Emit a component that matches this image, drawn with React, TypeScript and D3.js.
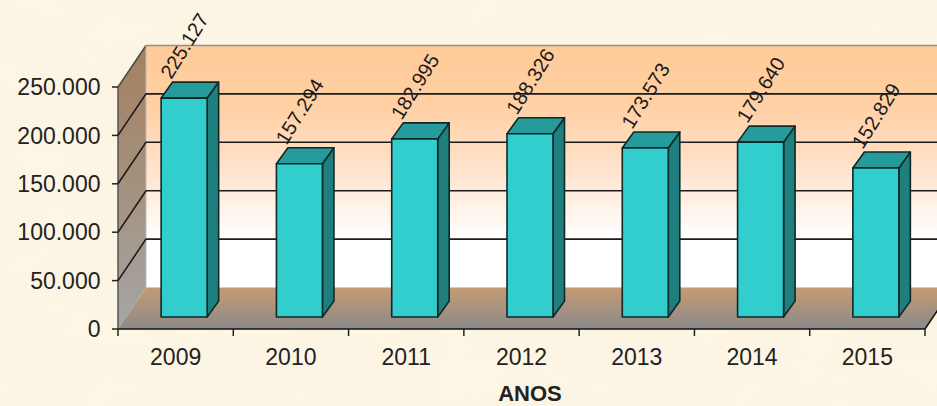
import React from "react";
import * as d3 from "d3";

const years = ["2009", "2010", "2011", "2012", "2013", "2014", "2015"];
const values = [225127, 157294, 182995, 188326, 173573, 179640, 152829];
const labels = ["225.127", "157.294", "182.995", "188.326", "173.573", "179.640", "152.829"];
const ticks = [0, 50000, 100000, 150000, 200000, 250000];
const tickLabels = ["0", "50.000", "100.000", "150.000", "200.000", "250.000"];

const W = 937, H = 406;
const x0 = 118, x1 = 925;
const depth = { dx: 28, dy: -41.5 };
const barDepth = { dx: 11.5, dy: -16 };
const barOff = { dx: 8.5, dy: -12 };
const barW = 46;

const y = d3.scaleLinear().domain([0, 250000]).range([329, 87]);
const x = d3.scaleBand<string>().domain(years).range([x0, x1]);

const poly = (pts: number[][]) => pts.map((p) => p.join(",")).join(" ");
const FONT = "'Liberation Sans', Arial, sans-serif";
const stroke = "#1c1c1c";

export default function App() {
  const top = y(250000), bottom = y(0);
  return (
    <svg width={W} height={H} viewBox={`0 0 ${W} ${H}`}
      style={{ position: "fixed", left: 0, top: 0, display: "block" }}>
      <defs>
        <linearGradient id="wall" x1="0" y1="0" x2="0" y2="1">
          <stop offset="0" stopColor="#FFCB98" />
          <stop offset="0.25" stopColor="#FFD0A4" />
          <stop offset="0.5" stopColor="#FFE2CB" />
          <stop offset="0.8" stopColor="#FFFFFF" />
          <stop offset="1" stopColor="#FFFFFF" />
        </linearGradient>
        <linearGradient id="side" x1="0" y1="0" x2="0" y2="1">
          <stop offset="0" stopColor="#A5805F" />
          <stop offset="0.5" stopColor="#A4917F" />
          <stop offset="1" stopColor="#A6A6A6" />
        </linearGradient>
        <linearGradient id="floor" x1="0" y1="0" x2="0" y2="1">
          <stop offset="0" stopColor="#C49B74" />
          <stop offset="1" stopColor="#8A8A8A" />
        </linearGradient>
        <filter id="paper" x="0" y="0" width="100%" height="100%">
          <feTurbulence type="fractalNoise" baseFrequency="0.014 0.02" numOctaves="3" seed="7" />
          <feColorMatrix type="matrix" values="0 0 0 0 0.99  0 0 0 0 0.92  0 0 0 0 0.78  0 0 0 1.8 -0.55" />
        </filter>
      </defs>

      <rect width={W} height={H} fill="#FDF5E4" />
      <rect width={W} height={H} filter="url(#paper)" />

      {/* back wall, side wall, floor */}
      <rect x={x0 + depth.dx} y={top + depth.dy} width={W} height={bottom - top} fill="url(#wall)" />
      <line x1={x0 + depth.dx} x2={W} y1={top + depth.dy} y2={top + depth.dy} stroke="#8f8f8f" strokeWidth={1.5} />
      <polygon
        points={poly([[x0, top], [x0 + depth.dx, top + depth.dy], [x0 + depth.dx, bottom + depth.dy], [x0, bottom]])}
        fill="url(#side)" />
      <polygon
        points={poly([[x0, bottom], [x0 + depth.dx, bottom + depth.dy], [x1 + depth.dx, bottom + depth.dy], [x1, bottom]])}
        fill="url(#floor)" />
      <line x1={x0} y1={top} x2={x0 + depth.dx} y2={top + depth.dy} stroke="#4a4a4a" strokeWidth={1.5} />
      <line x1={x0} y1={top} x2={x0} y2={bottom} stroke="#555" strokeWidth={1.5} />
      <line x1={x0 + depth.dx} y1={top + depth.dy} x2={x0 + depth.dx} y2={bottom + depth.dy} stroke="#bdbdbd" strokeWidth={1} />

      {/* gridlines */}
      {ticks.slice(1, 5).map((t) => (
        <polyline key={t} stroke={stroke} strokeWidth={1.6} fill="none"
          points={poly([[x0, y(t)], [x0 + depth.dx, y(t) + depth.dy], [W, y(t) + depth.dy]])} />
      ))}

      {/* axes */}
      <line x1={x0} x2={x1} y1={bottom} y2={bottom} stroke="#111" strokeWidth={1.5} />
      <line x1={x1} y1={bottom} x2={x1 + depth.dx} y2={bottom + depth.dy} stroke="#111" strokeWidth={1.5} />
      {ticks.map((t, i) => (
        <g key={t}>
          <line x1={x0 - 6} x2={x0} y1={y(t)} y2={y(t)} stroke="#222" strokeWidth={1.5} />
          <text x={x0 - 17.5} y={y(t)} dy="0.36em" textAnchor="end" fontFamily={FONT} fontSize={23} fill="#222">
            {tickLabels[i]}
          </text>
        </g>
      ))}
      {[...years, ""].map((yr, i) => {
        const tx = x0 + i * x.step();
        return <line key={i} x1={tx} x2={tx} y1={bottom} y2={bottom + 7} stroke="#222" strokeWidth={1.5} />;
      })}
      {years.map((yr) => (
        <text key={yr} x={(x(yr) as number) + x.bandwidth() / 2} y={365} textAnchor="middle"
          fontFamily={FONT} fontSize={23} fill="#222">{yr}</text>
      ))}
      <text x={530} y={401} textAnchor="middle" fontFamily={FONT} fontSize={22} fontWeight="bold" fill="#222">ANOS</text>

      {/* bars */}
      {years.map((yr, i) => {
        const cx = (x(yr) as number) + x.bandwidth() / 2 + barOff.dx;
        const l = cx - barW / 2, r = cx + barW / 2;
        const b = y(0) + barOff.dy;
        const h = y(0) - y(values[i]) + 1;
        const t = b - h;
        const { dx, dy } = barDepth;
        return (
          <g key={yr} stroke="#102828" strokeWidth={1.6} strokeLinejoin="round">
            <polygon points={poly([[r, t], [r + dx, t + dy], [r + dx, b + dy], [r, b]])} fill="#1F7F7F" />
            <polygon points={poly([[l, t], [l + dx, t + dy], [r + dx, t + dy], [r, t]])} fill="#269B9B" />
            <rect x={l} y={t} width={barW} height={h} fill="#32CDCD" />
          </g>
        );
      })}

      {/* data labels */}
      {years.map((yr, i) => {
        const cx = (x(yr) as number) + x.bandwidth() / 2 + barOff.dx;
        const h = y(0) - y(values[i]);
        const tx = cx - 13;
        const ty = y(0) + barOff.dy - h - 19;
        return (
          <text key={yr} transform={`translate(${tx},${ty}) rotate(-58)`} fontFamily={FONT}
            fontSize={20} fill="#1a1a1a">{labels[i]}</text>
        );
      })}
    </svg>
  );
}
